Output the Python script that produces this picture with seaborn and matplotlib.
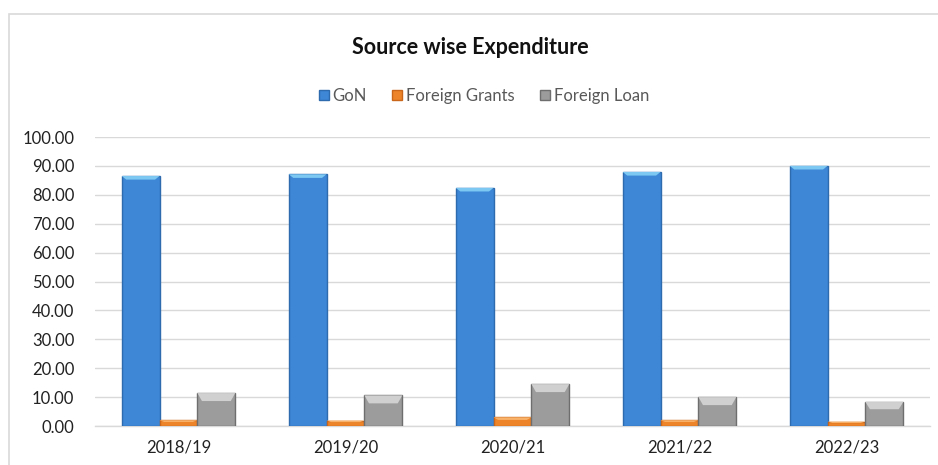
import matplotlib
matplotlib.use("Agg")
import matplotlib.pyplot as plt
from matplotlib.patches import Rectangle, Polygon
import pandas as pd
import seaborn as sns

years = ["2018/19", "2019/20", "2020/21", "2021/22", "2022/23"]
gon = [86.5, 87.1, 82.4, 87.9, 90.0]
foreign_grants = [2.0, 1.9, 3.0, 2.0, 1.5]
foreign_loan = [11.4, 10.6, 14.5, 10.0, 8.3]
series_names = ["GoN", "Foreign Grants", "Foreign Loan"]
palette = ["#3D87D6", "#EE842A", "#9C9C9C"]
edge_colors = ["#2D6AAE", "#C9661A", "#6E6E6E"]
cap_colors = ["#7CC8F2", "#F9B26A", "#D0D0D0"]

df = pd.DataFrame({
    "Year": years * 3,
    "Source": [series_names[0]] * 5 + [series_names[1]] * 5 + [series_names[2]] * 5,
    "Value": gon + foreign_grants + foreign_loan,
})

sns.set_theme(style="white")
plt.rcParams["font.family"] = ["Lato", "DejaVu Sans"]

fig = plt.figure(figsize=(9.38, 4.65), dpi=100)
ax = fig.add_axes([95 / 938, 1 - 426 / 465, 835 / 938, 289 / 465])

sns.barplot(data=df, x="Year", y="Value", hue="Source", palette=palette,
            width=0.68, gap=0, ax=ax, legend=False, saturation=1)

ax.set_ylim(0, 100)

# bevelled top edge on every bar
px_per_unit = 289 / 100.0
for i, container in enumerate(ax.containers):
    for bar in container:
        bar.set_edgecolor(edge_colors[i])
        bar.set_linewidth(1.0)
        bar.set_zorder(3)
        x0, w, h = bar.get_x(), bar.get_width(), bar.get_height()
        cap = min(3.6 / px_per_unit, h * 0.5) if i == 0 else min(h * 0.3, 8 / px_per_unit)
        inset = w * 0.12
        ax.add_patch(Polygon([(x0, h), (x0 + w, h), (x0 + w - inset, h - cap), (x0 + inset, h - cap)],
                             closed=True, facecolor=cap_colors[i], edgecolor="none", zorder=4))

ax.set_yticks(range(0, 101, 10))
ax.set_yticklabels([f"{v:.2f}" for v in range(0, 101, 10)], fontsize=12, color="#222222")
ax.tick_params(axis="x", labelsize=12, colors="#222222", pad=10, length=0)
ax.tick_params(axis="y", length=0, pad=15)
ax.set_xlabel("")
ax.set_ylabel("")
ax.yaxis.grid(True, color="#D9D9D9", linewidth=1.0, zorder=0)
ax.set_axisbelow(True)
for side in ["top", "right", "left"]:
    ax.spines[side].set_visible(False)
ax.spines["bottom"].set_color("#D9D9D9")
ax.spines["bottom"].set_linewidth(1.0)

# chart border
fig.patches.append(Rectangle((9 / 938, -0.02), 1.0, 1 - 14 / 465 + 0.02,
                             transform=fig.transFigure, fill=False,
                             edgecolor="#D9D9D9", linewidth=1.2))

fig.text(470 / 938, 1 - 47 / 465, "Source wise Expenditure", ha="center",
         va="center", fontsize=15.5, fontweight="bold", color="#111111")

handles = [Rectangle((0, 0), 1, 1, facecolor=c, edgecolor=e)
           for c, e in zip(palette, edge_colors)]
fig.legend(handles, series_names, loc="center", bbox_to_anchor=(484 / 938, 1 - 96 / 465),
           ncol=3, frameon=False, fontsize=12, labelcolor="#595959",
           handlelength=0.6, handleheight=0.6, handletextpad=0.25, columnspacing=1.5)

fig.savefig("out.png", dpi=100)
